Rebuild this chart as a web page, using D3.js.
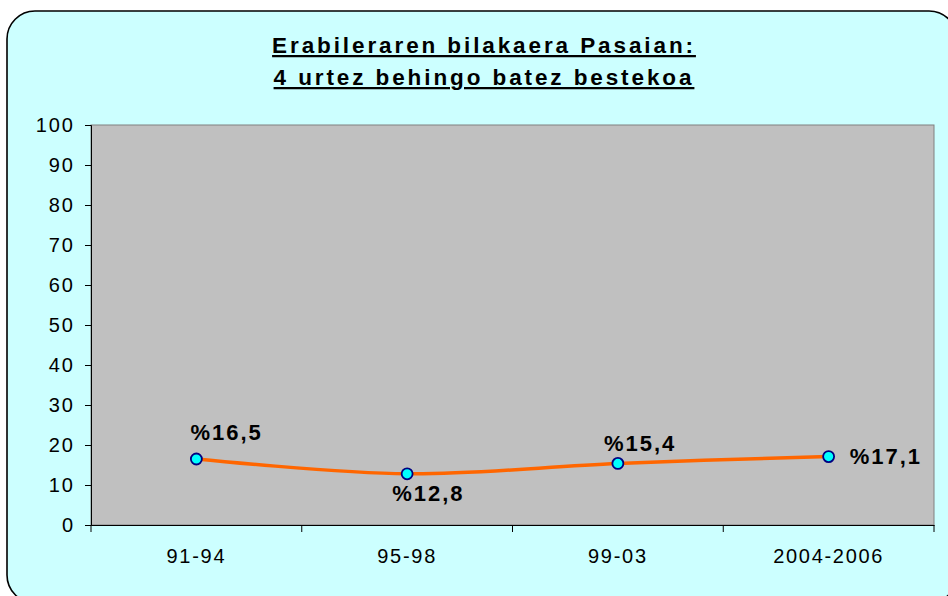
<!DOCTYPE html>
<html>
<head>
<meta charset="utf-8">
<script src="https://cdn.jsdelivr.net/npm/d3@7"></script>
<style>
	body { margin: 0; background: #ffffff; }
	svg { display: block; }
</style>
</head>
<body>
<div id="chart"></div>
<script>
var categories = ["91-94", "95-98", "99-03", "2004-2006"];
var values = [16.5, 12.8, 15.4, 17.1];
var labels = ["%16,5", "%12,8", "%15,4", "%17,1"];
var yTicks = [0, 10, 20, 30, 40, 50, 60, 70, 80, 90, 100];
var titleLines = ["Erabileraren bilakaera Pasaian:", "4 urtez behingo batez bestekoa"];

var W = 948, H = 596;
var plot = {left: 91, right: 934, top: 125, bottom: 525};
var font = "Liberation Sans, Arial, sans-serif";

var svg = d3.select("#chart").append("svg")
	.attr("width", W)
	.attr("height", H);

// chart area
svg.append("rect")
	.attr("x", 7).attr("y", 11)
	.attr("width", 950).attr("height", 592)
	.attr("rx", 28).attr("ry", 28)
	.attr("fill", "#ccffff")
	.attr("stroke", "#000")
	.attr("stroke-width", 1.6);

// title
svg.selectAll(".title")
	.data(titleLines)
	.enter().append("text")
	.attr("class", "title")
	.attr("x", 484)
	.attr("y", function(d, i) { return 53 + i * 32; })
	.attr("text-anchor", "middle")
	.style("font-family", font)
	.style("font-weight", "bold")
	.style("font-size", "22.5px")
	.style("letter-spacing", "2.9px")
	.style("text-decoration", "underline")
	.text(function(d) { return d; });

var x = d3.scaleBand()
	.domain(categories)
	.range([plot.left, plot.right]);

var y = d3.scaleLinear()
	.domain([0, 100])
	.range([plot.bottom, plot.top]);

// plot area
svg.append("rect")
	.attr("x", plot.left).attr("y", plot.top)
	.attr("width", plot.right - plot.left)
	.attr("height", plot.bottom - plot.top)
	.attr("fill", "#c0c0c0")
	.attr("stroke", "#808080")
	.attr("stroke-width", 1);

// y axis
var yAxis = svg.append("g")
	.attr("transform", "translate(" + plot.left + ",0)")
	.call(d3.axisLeft(y).tickValues(yTicks).tickSize(6).tickPadding(8));
yAxis.select(".domain").attr("stroke", "#000");
yAxis.selectAll("text")
	.attr("x", -16)
	.style("font-family", font)
	.style("font-size", "20px")
	.style("letter-spacing", "2px")
	.attr("fill", "#000");

// x axis
var xAxis = svg.append("g")
	.attr("transform", "translate(0," + plot.bottom + ")")
	.call(d3.axisBottom(x).tickSize(0).tickSizeOuter(0));
xAxis.select(".domain").attr("stroke", "#000");
xAxis.selectAll("text")
	.attr("y", 38)
	.attr("dy", 0)
	.style("font-family", font)
	.style("font-size", "20px")
	.style("letter-spacing", "1.7px")
	.attr("fill", "#000");

// category separators
var bounds = categories.map(function(c) { return x(c); }).concat([plot.right]);
svg.selectAll(".sep")
	.data(bounds)
	.enter().append("line")
	.attr("x1", function(d) { return d; })
	.attr("x2", function(d) { return d; })
	.attr("y1", plot.bottom)
	.attr("y2", plot.bottom + 7)
	.attr("stroke", "#000");

var pts = categories.map(function(c, i) {
	return {cx: x(c) + x.bandwidth() / 2, v: values[i], label: labels[i]};
});

var line = d3.line()
	.x(function(d) { return d.cx; })
	.y(function(d) { return y(d.v); })
	.curve(d3.curveCatmullRom.alpha(0.5));

svg.append("path")
	.datum(pts)
	.attr("d", line)
	.attr("fill", "none")
	.attr("stroke", "#ff6600")
	.attr("stroke-width", 3.5);

svg.selectAll(".dot")
	.data(pts)
	.enter().append("circle")
	.attr("cx", function(d) { return d.cx; })
	.attr("cy", function(d) { return y(d.v); })
	.attr("r", 5.5)
	.attr("fill", "#00ffff")
	.attr("stroke", "#000080")
	.attr("stroke-width", 1.8);

// data labels: dx, dy relative to the point
var labelPos = [[-6, -19], [-15, 27], [-14, -12], [21, 7]];
svg.selectAll(".lab")
	.data(pts)
	.enter().append("text")
	.attr("x", function(d, i) { return d.cx + labelPos[i][0]; })
	.attr("y", function(d, i) { return y(d.v) + labelPos[i][1]; })
	.attr("text-anchor", "start")
	.style("font-family", font)
	.style("font-weight", "bold")
	.style("font-size", "22px")
	.style("letter-spacing", "2px")
	.text(function(d) { return d.label; });
</script>
</body>
</html>
